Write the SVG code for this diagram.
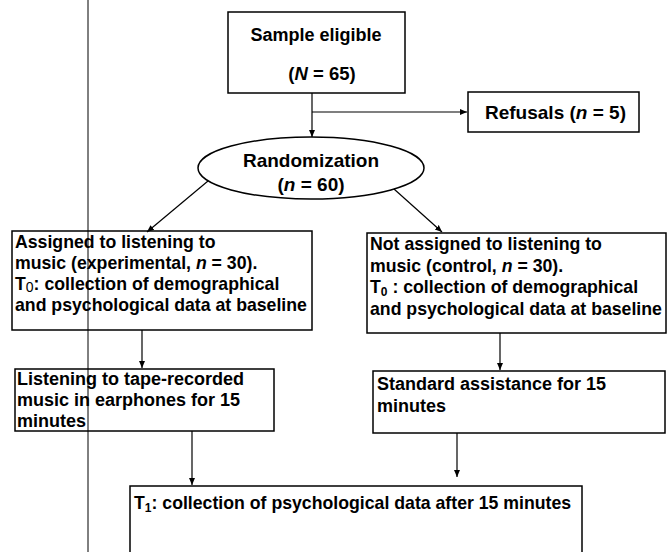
<svg xmlns="http://www.w3.org/2000/svg" width="667" height="552" viewBox="0 0 667 552">
<defs>
<marker id="ah" markerWidth="8" markerHeight="8" refX="7" refY="4" orient="auto" markerUnits="userSpaceOnUse"><path d="M0,1 L7,4 L0,7 Z" fill="#000"/></marker>
<style>
text{font-family:"Liberation Sans",Arial,sans-serif;font-weight:bold;font-size:17.7px;fill:#000}
.box{fill:#fff;stroke:#000;stroke-width:1.5}
.conn{stroke:#000;stroke-width:1.2;fill:none}
.it{font-style:italic}
.sub{font-size:12px}
</style>
</defs>
<rect width="667" height="552" fill="#fff"/>
<g id="sample">
<rect class="box" x="228" y="12" width="177" height="81"/>
<text x="316" y="41" text-anchor="middle" style="font-size:18px">Sample eligible</text>
<text x="322" y="80" text-anchor="middle" style="font-size:18.5px">(<tspan class="it">N</tspan> = 65)</text>
</g>
<g id="refusals">
<rect class="box" x="468" y="92" width="171" height="40"/>
<text x="485" y="119" style="font-size:19px">Refusals (<tspan class="it">n</tspan> = 5)</text>
</g>
<g id="randomization">
<ellipse class="box" cx="311" cy="168" rx="113" ry="31"/>
<text x="311" y="167" text-anchor="middle" style="font-size:19px">Randomization</text>
<text x="311" y="191" text-anchor="middle" style="font-size:19px">(<tspan class="it">n</tspan> = 60)</text>
</g>
<g id="experimental">
<rect class="box" x="12" y="231" width="300" height="99"/>
<text x="15" y="248">Assigned to listening to</text>
<text x="15" y="269">music (experimental, <tspan class="it">n</tspan> = 30).</text>
<text x="15" y="290">T<tspan style="font-weight:normal;font-size:14px" dy="2">0</tspan><tspan dy="-2">: collection of demographical</tspan></text>
<text x="15" y="311">and psychological data at baseline</text>
</g>
<g id="control">
<rect class="box" x="367" y="233" width="299" height="100"/>
<text x="370" y="250">Not assigned to listening to</text>
<text x="370" y="271.5">music (control, <tspan class="it">n</tspan> = 30).</text>
<text x="370" y="293">T<tspan class="sub" dy="3">0</tspan><tspan dy="-3"> : collection of demographical</tspan></text>
<text x="370" y="315">and psychological data at baseline</text>
</g>
<g id="listening">
<rect class="box" x="15" y="369" width="259" height="62"/>
<text x="17" y="385" style="font-size:18px">Listening to tape-recorded</text>
<text x="17" y="406" style="font-size:18px">music in earphones for 15</text>
<text x="17" y="427" style="font-size:18px">minutes</text>
</g>
<g id="standard">
<rect class="box" x="373" y="371" width="292" height="62"/>
<text x="377" y="390" style="font-size:18px">Standard assistance for 15</text>
<text x="377" y="412" style="font-size:18px">minutes</text>
</g>
<g id="t1">
<rect class="box" x="130" y="486" width="452" height="80"/>
<text x="134" y="509">T<tspan class="sub" dy="3">1</tspan><tspan dy="-3">: collection of psychological data after 15 minutes</tspan></text>
</g>
<g id="connectors">
<path class="conn" d="M312,93 V137" marker-end="url(#ah)"/>
<path class="conn" d="M312,112 H467" marker-end="url(#ah)"/>
<path class="conn" d="M208,181 L147,232" marker-end="url(#ah)"/>
<path class="conn" d="M394,189 L442,232" marker-end="url(#ah)"/>
<path class="conn" d="M142,330 V368" marker-end="url(#ah)"/>
<path class="conn" d="M500,333 V370" marker-end="url(#ah)"/>
<path class="conn" d="M192,431 V485" marker-end="url(#ah)"/>
<path class="conn" d="M457,433 V477" marker-end="url(#ah)"/>
</g>
<path d="M88,0 V552" stroke="#000" stroke-width="1"/>
</svg>
